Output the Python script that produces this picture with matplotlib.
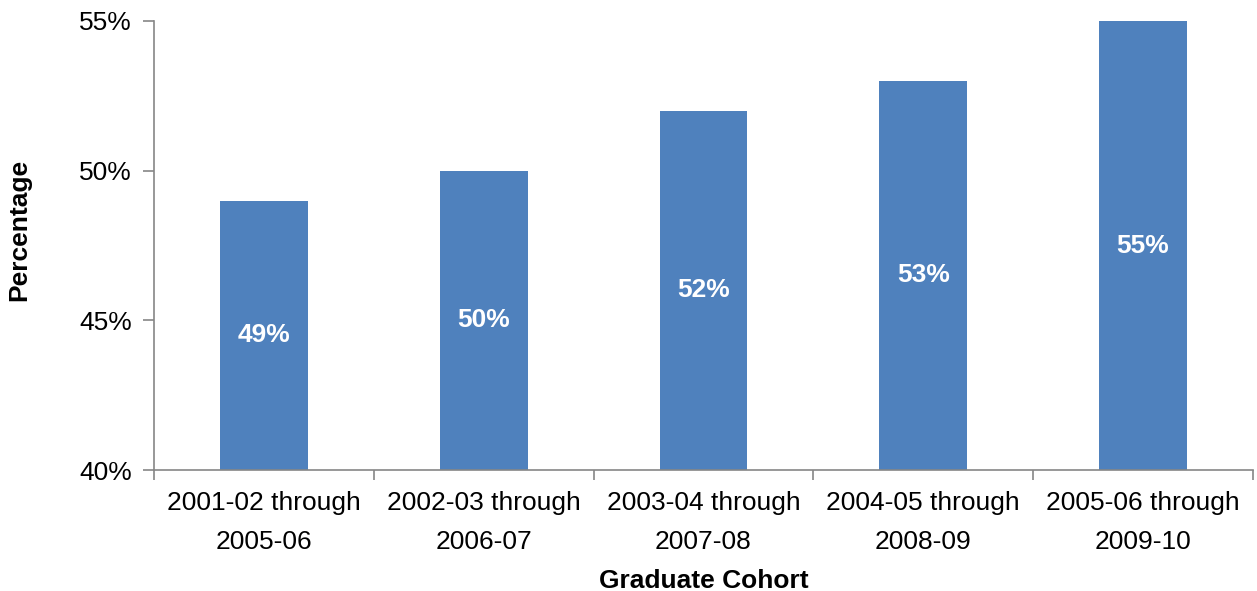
import matplotlib
matplotlib.use("Agg")
import matplotlib.pyplot as plt

plt.rcParams['font.family'] = ['Liberation Sans', 'DejaVu Sans']

# data
cohorts = ['2001-02 through\n2005-06', '2002-03 through\n2006-07', '2003-04 through\n2007-08',
           '2004-05 through\n2008-09', '2005-06 through\n2009-10']
rates = [49, 50, 52, 53, 55]
y_ticks = [40, 45, 50, 55]

bar_color = '#4F81BD'
axis_color = '#868686'
fs = 19

fig = plt.figure(figsize=(12.57, 5.91), dpi=100)
ax = fig.add_axes([0.1225, 0.2047, 0.8743, 0.7598])

x = range(len(cohorts))
ax.bar(x, rates, width=0.4, color=bar_color)

# value labels centred in the visible part of each bar
for i, v in enumerate(rates):
    ax.text(i, (40 + v) / 2, f'{v}%', ha='center', va='center',
            color='white', fontsize=fs, fontweight='bold')

ax.set_ylim(40, 55)
ax.set_xlim(-0.5, len(cohorts) - 0.5)
ax.set_yticks(y_ticks)
ax.set_yticklabels([f'{t}%' for t in y_ticks], fontsize=fs)

# category labels in the middle, tick marks at the boundaries
ax.set_xticks(list(x))
ax.set_xticklabels(cohorts, fontsize=fs, linespacing=1.8)
ax.tick_params(axis='x', length=0, pad=15)
ax.set_xticks([i - 0.5 for i in range(len(cohorts) + 1)], minor=True)
ax.tick_params(axis='x', which='minor', length=7, color=axis_color, width=1.2, direction='out')
ax.tick_params(axis='y', length=8, color=axis_color, width=1.2, direction='out', pad=8)

for side in ['top', 'right']:
    ax.spines[side].set_visible(False)
for side in ['left', 'bottom']:
    ax.spines[side].set_color(axis_color)
    ax.spines[side].set_linewidth(1.2)

ax.set_xlabel('Graduate Cohort', fontsize=fs, fontweight='bold', labelpad=11)
fig.text(19 / 1257, 1 - 230 / 591, 'Percentage', rotation=90, ha='center', va='center',
         fontsize=fs, fontweight='bold')

fig.savefig('out.png', dpi=100)
